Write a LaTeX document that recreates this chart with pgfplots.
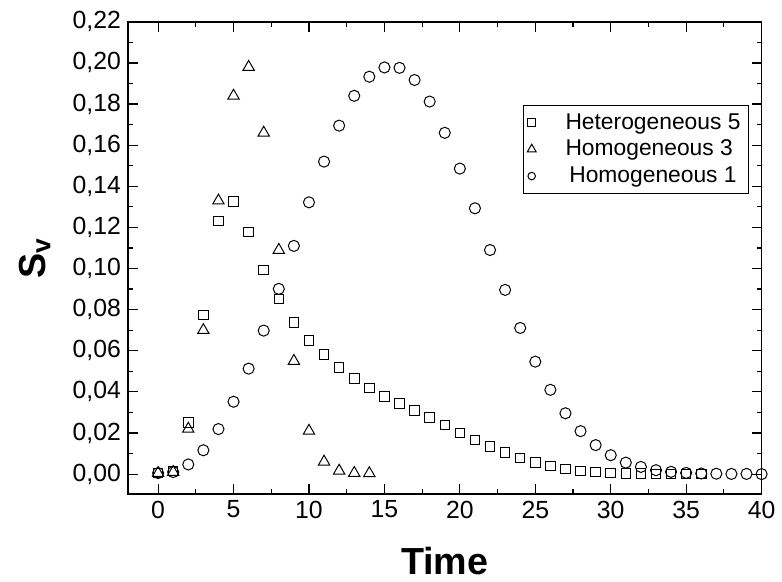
\documentclass[border=0pt]{standalone}
\usepackage{pgfplots}
\pgfplotsset{compat=1.18}
\usepackage{fontspec}
\setmainfont{Liberation Sans}
\begin{document}
\begin{tikzpicture}
\begin{axis}[
  scale only axis,
  width=319.5pt, height=238pt,
  xmin=-2, xmax=40, ymin=-0.0096, ymax=0.22,
  xtick={0,5,...,40},
  minor x tick num=1,
  ytick={0,0.02,...,0.221},
  minor y tick num=1,
  tick align=inside,
  major tick length=5pt,
  minor tick length=2.5pt,
  axis line style={line width=0.8pt},
  every tick/.style={black, line width=0.6pt},
  tick label style={font=\fontsize{12.5}{14}\selectfont},
  /pgf/number format/assume math mode=true,
  yticklabel style={/pgf/number format/.cd, fixed, fixed zerofill, precision=2, use comma},
  scaled y ticks=false,
  xlabel={\textbf{Time}},
  ylabel={\textbf{S\textsubscript{v}}},
  xlabel style={font=\fontsize{19}{21}\selectfont, at={(rel axis cs:0.5,0)}, anchor=center, yshift=-34pt},
  ylabel style={font=\fontsize{19}{21}\selectfont, at={(rel axis cs:0,0.5)}, anchor=center, yshift=47pt},
  legend style={at={(rel axis cs:0.98,0.824)}, anchor=north east,
    draw=black, line width=0.5pt, font=\fontsize{11.5}{13}\selectfont,
    row sep=0pt, inner sep=2pt, cells={anchor=west}},
  legend image post style={mark size=1.9pt},
  clip=true,
]
\addplot[only marks, mark=square, mark size=2.4pt, black, line width=0.5pt] coordinates {
(0,0.0005) (1,0.0015) (2,0.025) (3,0.0775) (4,0.123) (5,0.1327) (6,0.1177) (7,0.0992)
(8,0.0851) (9,0.0738) (10,0.065) (11,0.0582) (12,0.0518) (13,0.0466) (14,0.0418)
(15,0.0378) (16,0.0344) (17,0.0309) (18,0.0276) (19,0.024) (20,0.020) (21,0.0167)
(22,0.0134) (23,0.0106) (24,0.0078) (25,0.0057) (26,0.0039) (27,0.0026) (28,0.0015)
(29,0.001) (30,0.0006) (31,0.0004) (32,0.0002) (33,0.0001) (34,0.0001) (35,0.0001) (36,0.0)
};
\addlegendentry{\ \ \ \ Heterogeneous 5}
\addplot[only marks, mark=triangle, mark size=3.3pt, black, line width=0.5pt, legend image post style={mark size=2.6pt}] coordinates {
(0,0.0005) (1,0.001) (2,0.022) (3,0.070) (4,0.133) (5,0.184) (6,0.198) (7,0.166)
(8,0.109) (9,0.055) (10,0.021) (11,0.006) (12,0.0016) (13,0.0005) (14,0.0004)
};
\addlegendentry{\ \ \ \ Homogeneous 3}
\addplot[only marks, mark=o, mark size=2.8pt, black, line width=0.5pt] coordinates {
(0,0.0005) (1,0.001) (2,0.0047) (3,0.0116) (4,0.0219) (5,0.0352) (6,0.0513) (7,0.0698)
(8,0.0901) (9,0.111) (10,0.1322) (11,0.152) (12,0.1695) (13,0.184) (14,0.1933)
(15,0.1978) (16,0.1976) (17,0.1917) (18,0.1812) (19,0.166) (20,0.1486) (21,0.1293)
(22,0.109) (23,0.0896) (24,0.0711) (25,0.0547) (26,0.041) (27,0.0296) (28,0.0209)
(29,0.0141) (30,0.0092) (31,0.0056) (32,0.0035) (33,0.0019) (34,0.0011) (35,0.0006)
(36,0.0003) (37,0.0002) (38,0.0001) (39,0.0001) (40,0.0)
};
\addlegendentry{\ \ \ \ \,Homogeneous 1}
\end{axis}
\path ([xshift=-64.5pt,yshift=-43.5pt]current axis.south west) rectangle ([xshift=7pt,yshift=11pt]current axis.north east);
\end{tikzpicture}
\end{document}
